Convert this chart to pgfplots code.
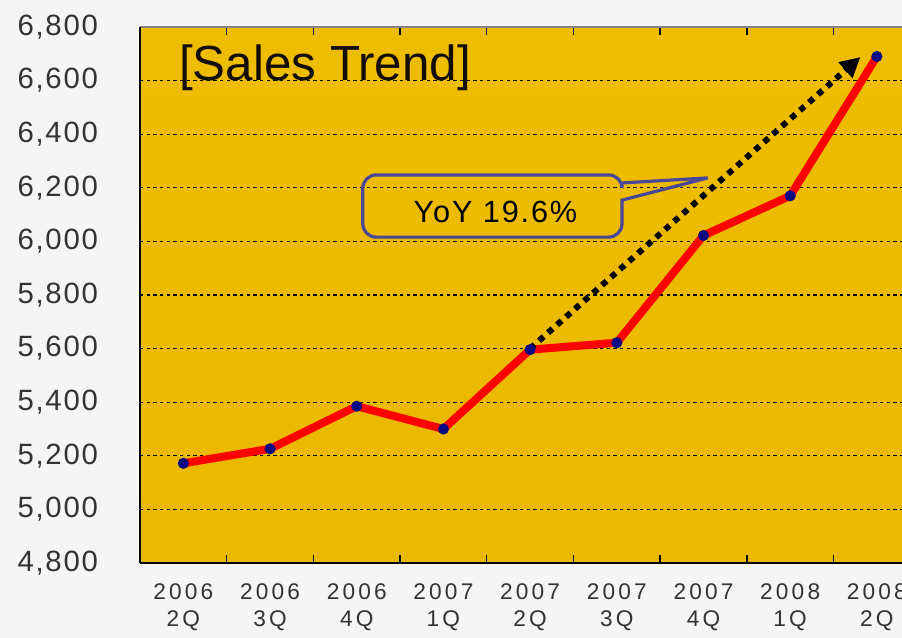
\documentclass[border=0pt]{standalone}
\usepackage{pgfplots}
\pgfplotsset{compat=1.18}
\usetikzlibrary{arrows.meta}
\usepackage{fontspec}
\setmainfont{Liberation Sans}
\newfontfamily\gul[LetterSpace=6]{Liberation Sans}
\newfontfamily\gulx[LetterSpace=14]{Liberation Sans}
\definecolor{gTop}{RGB}{238,188,0}
\definecolor{gMid}{RGB}{255,208,0}
\definecolor{gBot}{RGB}{234,184,0}
\definecolor{navy}{RGB}{10,10,130}
\definecolor{callout}{RGB}{72,72,150}
\definecolor{bordergray}{RGB}{130,130,130}
\begin{document}
\begin{tikzpicture}
% page background (1px = 0.75pt, axis box starts at px (140,563))
\fill[black!4] (-105pt,-56.25pt) rectangle (571.5pt,422.25pt);
\begin{axis}[
    at={(0,0)}, anchor=south west,
    scale only axis,
    width=571.5pt, height=402pt,
    xmin=-0.5, xmax=8.29,
    ymin=4800, ymax=6800,
    clip=false,
    axis line style={draw=none},
    axis background/.style={top color=gTop, middle color=gMid, bottom color=gBot},
    xtick={0,...,8},
    xticklabels={{2006\\2Q},{2006\\3Q},{2006\\4Q},{2007\\1Q},{2007\\2Q},{2007\\3Q},{2007\\4Q},{2008\\1Q},{2008\\2Q}},
    xticklabel style={align=center, font=\gulx\fontsize{17}{20}\selectfont, text=black!80, yshift=-12pt},
    major x tick style={draw=none},
    minor xtick={0.5,1.5,...,7.5},
    minor x tick style={black, line width=1pt},
    minor tick length=6pt,
    tick align=inside,
    ytick={4800,5000,...,6800},
    ytick style={draw=none},
    yticklabel style={font=\gul\fontsize{22}{22}\selectfont, text=black!80, xshift=-28pt},
    /pgf/number format/1000 sep={,},
    /pgf/number format/assume math mode=true,
    ymajorgrids,
    grid style={black, line width=1pt, dash pattern=on 2.5pt off 2.5pt},
]
\addplot[red, line width=6pt, line join=round,
    mark=*, mark size=4pt, mark options={fill=navy, draw=navy, line width=0.3pt}]
coordinates {
    (0,5172) (1,5226) (2,5385) (3,5300) (4,5596)
    (5,5622) (6,6022) (7,6170) (8,6690)
};

% trend arrow
\draw[black, line width=4.5pt, dash pattern=on 4.5pt off 4.5pt,
    -{Triangle[length=15pt,width=15pt]}]
    (axis cs:4,5600) -- (axis cs:7.81,6688);

% callout
\draw[callout, line width=2.4pt]
    (axis cs:5.06,6154) [rounded corners=10pt] -- (axis cs:5.06,6016) -- (axis cs:2.07,6016)
    -- (axis cs:2.07,6248) -- (axis cs:5.06,6248) [sharp corners] -- (axis cs:5.06,6218)
    -- (axis cs:6.05,6237) -- cycle;
\node[font=\gul\fontsize{23}{23}\selectfont, text=black] at (axis cs:3.6,6110) {YoY 19.6\%};

% title
\node[anchor=base west, font=\fontsize{37}{37}\selectfont, text=black!90!brown,
    inner sep=0pt] at (axis cs:-0.05,6602) {[Sales Trend]};

% axis lines
\draw[bordergray, line width=1.5pt] (axis cs:-0.5,6800) -- (axis cs:8.29,6800);
\draw[black, line width=1.5pt] (axis cs:-0.5,4800) -- (axis cs:8.29,4800);
\draw[black, line width=2.2pt] (axis cs:-0.5,4800) -- (axis cs:-0.5,6800);
\end{axis}
\pgfresetboundingbox
\useasboundingbox (-105pt,-56.25pt) rectangle (571.5pt,422.25pt);
\end{tikzpicture}
\end{document}
